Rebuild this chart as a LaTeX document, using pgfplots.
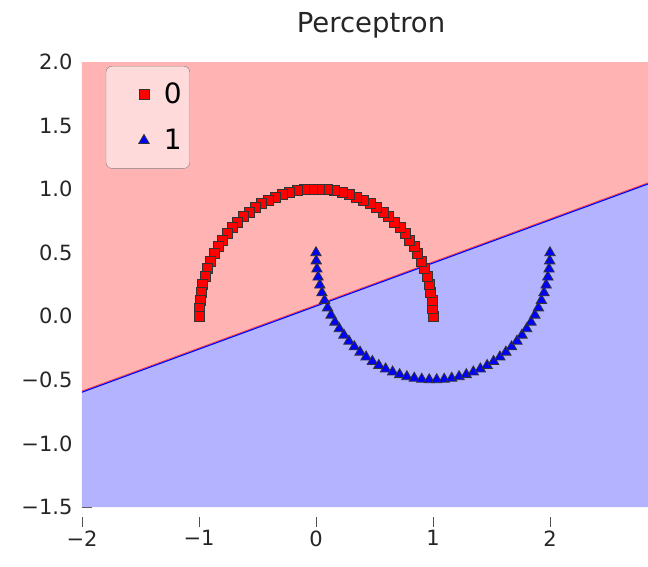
\documentclass[border=0pt]{standalone}
\usepackage{fontspec}
\setmainfont{DejaVu Sans}
\usepackage{pgfplots}
\pgfplotsset{compat=1.18}

\definecolor{regionred}{RGB}{255,179,179}
\definecolor{regionblue}{RGB}{179,179,255}
\definecolor{legendfill}{RGB}{255,218,218}
\definecolor{tickgray}{RGB}{80,80,80}

\pgfplotsset{
  moonlegend/.style={
    legend image code/.code={%
      \path[draw=none, fill=none] (0pt,-6pt) rectangle (50pt,6pt);
      \draw[##1, only marks] plot coordinates {(32pt,0pt)};}
  }
}

\begin{document}
\begin{tikzpicture}
\useasboundingbox (-82pt,-59pt) rectangle (566pt,507pt);
\begin{axis}[
  scale only axis,
  width=566pt, height=445pt,
  at={(0pt,0pt)}, anchor=south west,
  xmin=-2, xmax=2.838,
  ymin=-1.5, ymax=2.0,
  axis line style={draw=none},
  xtick={-2,-1,0,1,2},
  xticklabels={−2,−1,0,1,2},
  ytick={-1.5,-1.0,-0.5,0,0.5,1.0,1.5,2.0},
  yticklabels={−1.5,−1.0,−0.5,0.0,0.5,1.0,1.5,2.0},
  xtick pos=lower, ytick pos=left,
  x tick style={draw=tickgray, line width=0.8pt, yshift=-10pt},
  y tick style={draw=tickgray, line width=0.8pt},
  xtick align=outside, ytick align=inside,
  major tick length=10pt,
  ticklabel style={font=\fontsize{21}{25}\selectfont, text=black!85},
  xticklabel style={yshift=-10pt},
  yticklabel style={xshift=-6pt},
  title={Perceptron},
  title style={font=\fontsize{27.5}{32}\selectfont, text=black!85, yshift=14pt, xshift=6pt},
  legend style={
    at={(0.042,0.991)}, anchor=north west,
    draw=gray, fill=legendfill, rounded corners=6pt,
    font=\fontsize{28}{32}\selectfont,
    inner xsep=6pt, inner ysep=15pt, row sep=20pt,
  },
  legend cell align=left,
  clip=true,
]
% decision regions
\addplot[fill=regionred, draw=none, forget plot] coordinates
  {(-2,-0.595) (2.838,1.043) (2.838,2.0) (-2,2.0)} -- cycle;
\addplot[fill=regionblue, draw=none, forget plot] coordinates
  {(-2,-1.5) (2.838,-1.5) (2.838,1.043) (-2,-0.595)} -- cycle;
% decision boundary
\addplot[draw=red!70!regionred, line width=0.8pt, forget plot] coordinates
  {(-2,-0.588) (2.838,1.050)};
\addplot[draw=blue, line width=1.1pt, forget plot] coordinates
  {(-2,-0.597) (2.838,1.041)};

% class 0: upper moon
\addplot[only marks, mark=square*, mark size=5pt, moonlegend,
  mark options={fill=red, draw=black!80, line width=0.8pt}] coordinates {
(1,0) (0.998,0.064) (0.992,0.128) (0.982,0.191) (0.967,0.254) (0.949,0.315)
(0.927,0.375) (0.901,0.434) (0.871,0.491) (0.838,0.546) (0.801,0.598)
(0.761,0.648) (0.718,0.696) (0.672,0.740) (0.623,0.782) (0.572,0.820)
(0.518,0.855) (0.463,0.887) (0.405,0.914) (0.345,0.938) (0.285,0.959)
(0.223,0.975) (0.160,0.987) (0.096,0.995) (0.032,0.999)
(-0.032,0.999) (-0.096,0.995) (-0.160,0.987) (-0.223,0.975) (-0.285,0.959)
(-0.345,0.938) (-0.405,0.914) (-0.463,0.887) (-0.518,0.855) (-0.572,0.820)
(-0.623,0.782) (-0.672,0.740) (-0.718,0.696) (-0.761,0.648) (-0.801,0.598)
(-0.838,0.546) (-0.871,0.491) (-0.901,0.434) (-0.927,0.375) (-0.949,0.315)
(-0.967,0.254) (-0.982,0.191) (-0.992,0.128) (-0.998,0.064) (-1,0)
};
\addlegendentry{0}

% class 1: lower moon
\addplot[only marks, mark=triangle*, mark size=6pt, moonlegend,
  mark options={fill=blue, draw=black!80, line width=0.8pt}] coordinates {
(0,0.5) (0.002,0.436) (0.008,0.372) (0.018,0.309) (0.033,0.246) (0.051,0.185)
(0.073,0.125) (0.099,0.066) (0.129,0.009) (0.162,-0.046) (0.199,-0.098)
(0.239,-0.148) (0.282,-0.196) (0.328,-0.240) (0.377,-0.282) (0.428,-0.320)
(0.482,-0.355) (0.537,-0.387) (0.595,-0.414) (0.655,-0.438) (0.715,-0.459)
(0.777,-0.475) (0.840,-0.487) (0.904,-0.495) (0.968,-0.499)
(1.032,-0.499) (1.096,-0.495) (1.160,-0.487) (1.223,-0.475) (1.285,-0.459)
(1.345,-0.438) (1.405,-0.414) (1.463,-0.387) (1.518,-0.355) (1.572,-0.320)
(1.623,-0.282) (1.672,-0.240) (1.718,-0.196) (1.761,-0.148) (1.801,-0.098)
(1.838,-0.046) (1.871,0.009) (1.901,0.066) (1.927,0.125) (1.949,0.185)
(1.967,0.246) (1.982,0.309) (1.992,0.372) (1.998,0.436) (2,0.5)
};
\addlegendentry{1}
\end{axis}
\end{tikzpicture}
\end{document}
